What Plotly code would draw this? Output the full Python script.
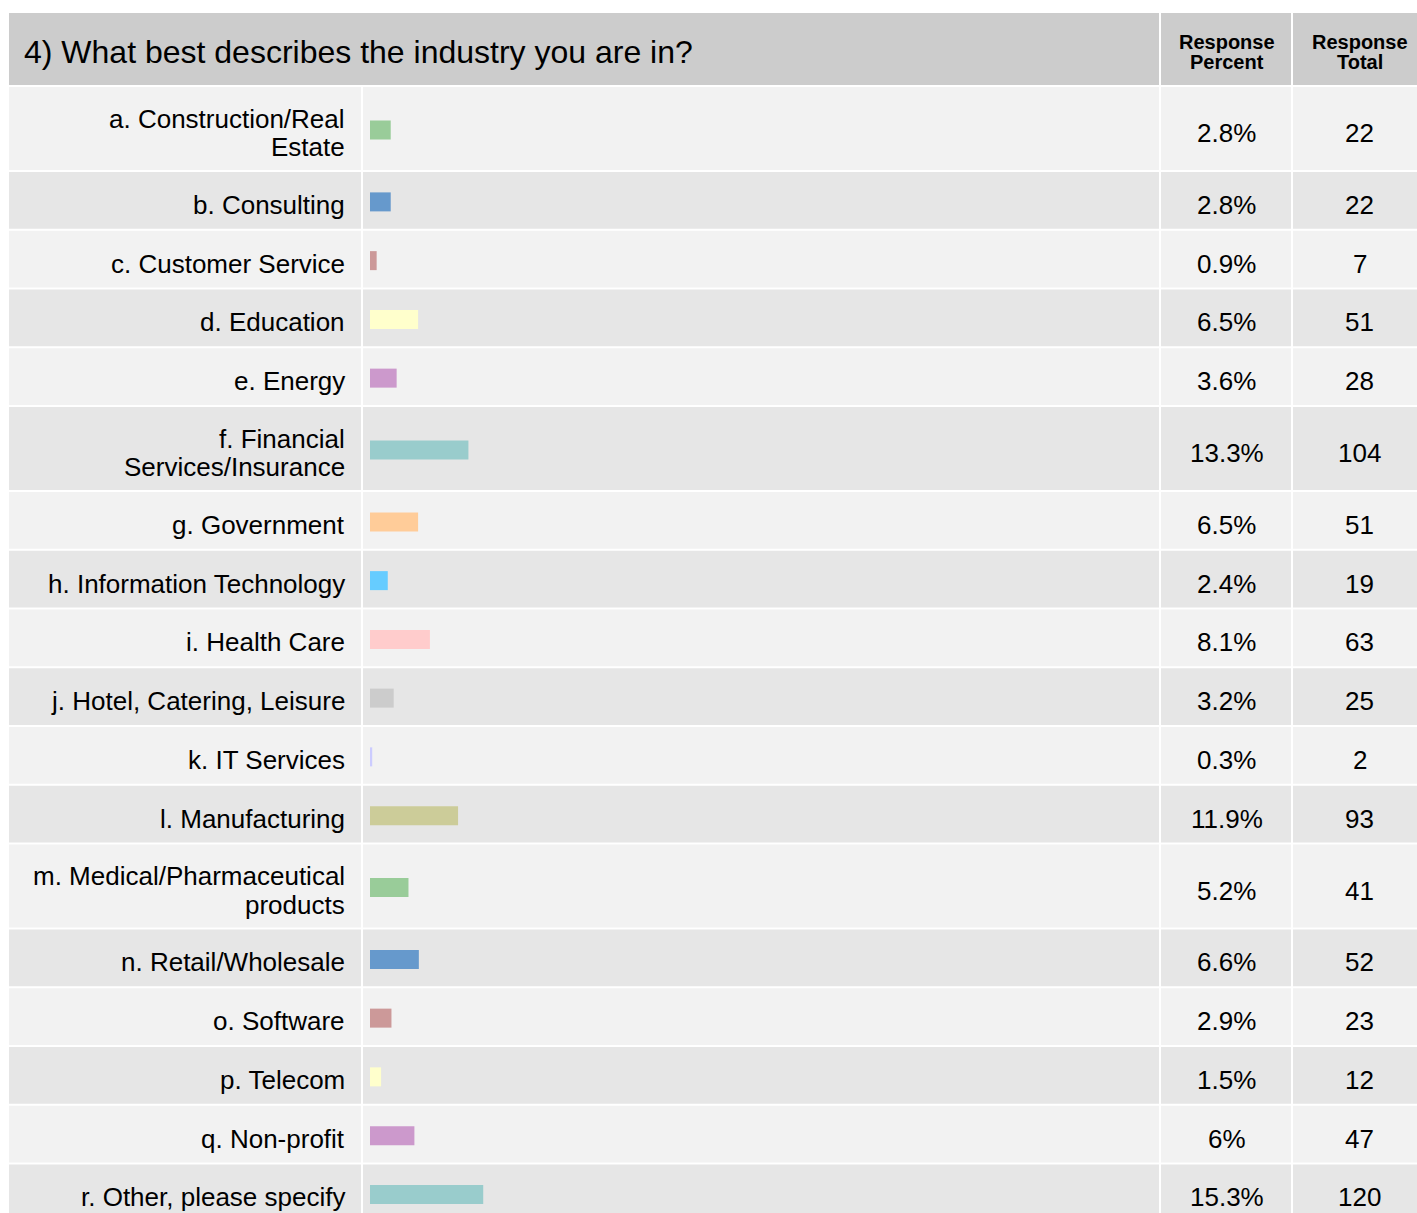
import plotly.graph_objects as go

# Canvas size in pixels
W, H = 1417, 1213

question = "4) What best describes the industry you are in?"
header_percent = ["Response", "Percent"]
header_total = ["Response", "Total"]

labels = [
    "a. Construction/Real<br>Estate",
    "b. Consulting",
    "c. Customer Service",
    "d. Education",
    "e. Energy",
    "f. Financial<br>Services/Insurance",
    "g. Government",
    "h. Information Technology",
    "i. Health Care",
    "j. Hotel, Catering, Leisure",
    "k. IT Services",
    "l. Manufacturing",
    "m. Medical/Pharmaceutical<br>products",
    "n. Retail/Wholesale",
    "o. Software",
    "p. Telecom",
    "q. Non-profit",
    "r. Other, please specify",
]
percents = [2.8, 2.8, 0.9, 6.5, 3.6, 13.3, 6.5, 2.4, 8.1, 3.2,
            0.3, 11.9, 5.2, 6.6, 2.9, 1.5, 6.0, 15.3]
totals = [22, 22, 7, 51, 28, 104, 51, 19, 63, 25,
          2, 93, 41, 52, 23, 12, 47, 120]
bar_colors = [
    "#99cc99", "#6699cc", "#cc9999", "#ffffcc", "#cc99cc", "#99cccc",
    "#ffcc99", "#66ccff", "#ffcccc", "#cccccc", "#ccccff", "#cccc99",
    "#99cc99", "#6699cc", "#cc9999", "#ffffcc", "#cc99cc", "#99cccc",
]

# Table geometry (pixels)
TABLE_LEFT = 9
HEADER_TOP, HEADER_BOTTOM = 13, 85
GAP = 2
SHORT_PITCH, TALL_PITCH = 58.75, 85
COL_LABEL = (9, 361)
COL_BAR = (363, 1159)
COL_PCT = (1161, 1291)
COL_TOT = (1293, 1430)
BAR_START, BAR_END = 370, 1110          # 0..100 % span of the bar axis
LABEL_RIGHT = 347
PCT_CENTER, TOT_CENTER = 1226.5, 1359.5
ROW_COLORS = ["#f2f2f2", "#e6e6e6"]
HEADER_COLOR = "#cccccc"
FONT = "Liberation Sans, Arial, sans-serif"


def px(x):
    return x / W


# Row extents
row_tops, row_bottoms, row_centers = [], [], []
y = HEADER_BOTTOM + GAP
for lab in labels:
    pitch = TALL_PITCH if "<br>" in lab else SHORT_PITCH
    row_tops.append(y)
    row_bottoms.append(y + pitch - GAP)
    row_centers.append(y + (pitch - GAP) / 2)
    y += pitch

shapes = []


def cell(x0, x1, y0, y1, color):
    shapes.append(dict(type="rect", xref="paper", yref="y",
                       x0=px(x0), x1=px(x1), y0=y0, y1=y1,
                       fillcolor=color, line=dict(width=0), layer="below"))


# Header cells
cell(TABLE_LEFT, COL_BAR[1], HEADER_TOP, HEADER_BOTTOM, HEADER_COLOR)
cell(COL_PCT[0], COL_PCT[1], HEADER_TOP, HEADER_BOTTOM, HEADER_COLOR)
cell(COL_TOT[0], COL_TOT[1], HEADER_TOP, HEADER_BOTTOM, HEADER_COLOR)

# Body cells
for i in range(len(labels)):
    c = ROW_COLORS[i % 2]
    for col in (COL_LABEL, COL_BAR, COL_PCT, COL_TOT):
        cell(col[0], col[1], row_tops[i], row_bottoms[i], c)

annotations = []


def text(x, y, s, size, anchor="center", bold=False):
    annotations.append(dict(
        xref="paper", yref="y", x=px(x), y=y, text=f"<b>{s}</b>" if bold else s,
        showarrow=False, xanchor=anchor, yanchor="middle",
        font=dict(family=FONT, size=size, color="#000000")))


# Header text
text(22, 51.5, question, 32, anchor="left")
text(PCT_CENTER, 42, header_percent[0], 20, bold=True)
text(PCT_CENTER, 62, header_percent[1], 20, bold=True)
text(TOT_CENTER, 42, header_total[0], 20, bold=True)
text(TOT_CENTER, 62, header_total[1], 20, bold=True)

LINE_STEP = 28.5
for i, lab in enumerate(labels):
    lines = lab.split("<br>")
    yc = row_centers[i] + 4.5
    first = yc - LINE_STEP * (len(lines) - 1) / 2
    for k, ln in enumerate(lines):
        text(LABEL_RIGHT, first + k * LINE_STEP, ln, 26, anchor="right")
    text(PCT_CENTER, yc, f"{percents[i]:g}%", 26)
    text(TOT_CENTER, yc, str(totals[i]), 26)

fig = go.Figure()
fig.add_trace(go.Bar(
    x=percents,
    y=[c + 1.5 for c in row_centers],
    orientation="h",
    width=19,
    base=0,
    marker=dict(color=bar_colors, line=dict(width=0)),
    hoverinfo="skip",
))

fig.update_layout(
    width=W, height=H,
    margin=dict(l=0, r=0, t=0, b=0),
    paper_bgcolor="#ffffff",
    plot_bgcolor="rgba(0,0,0,0)",
    showlegend=False,
    shapes=shapes,
    annotations=annotations,
    xaxis=dict(domain=[px(BAR_START), px(BAR_END)], range=[0, 100],
               visible=False, fixedrange=True),
    yaxis=dict(domain=[0, 1], range=[H, 0], visible=False, fixedrange=True),
)

fig.write_html("out.html", config={"displayModeBar": False})
